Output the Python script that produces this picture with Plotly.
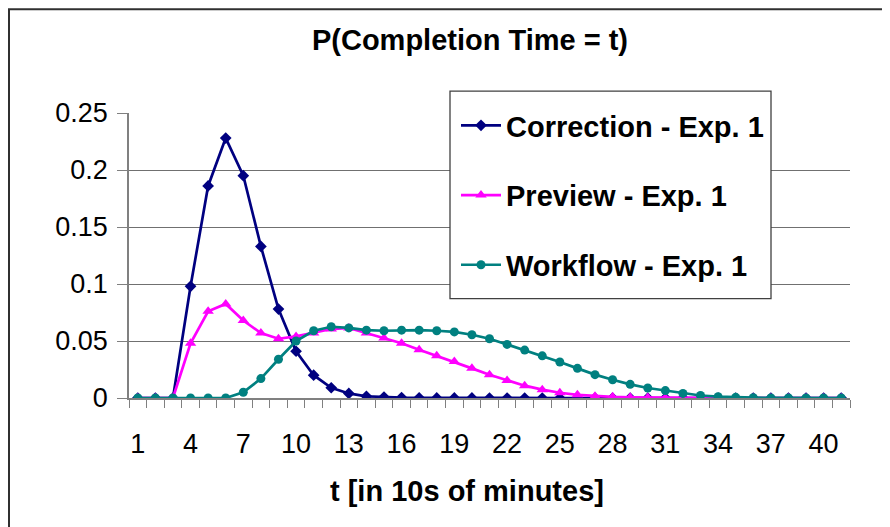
import plotly.graph_objects as go

t_values = list(range(1, 42))
tick_labels = [str(v) for v in range(1, 42, 3)]

correction = [0, 0, 0, 0.098, 0.186, 0.228, 0.195, 0.133, 0.078, 0.041,
              0.02, 0.009, 0.004, 0.0015, 0.0008, 0.0004, 0.0002, 0.0001, 0.0001, 0.0001,
              0, 0, 0, 0, 0, 0, 0, 0, 0, 0,
              0, 0, 0, 0, 0, 0, 0, 0, 0, 0, 0]
preview = [0, 0, 0, 0.048, 0.076, 0.0825, 0.068, 0.057, 0.052, 0.054,
           0.057, 0.0605, 0.0614, 0.057, 0.0526, 0.048, 0.0424, 0.037, 0.032, 0.026,
           0.0204, 0.0154, 0.0108, 0.0073, 0.0046, 0.0028, 0.0016, 0.001, 0.0006, 0.0004,
           0.0002, 0.0001, 0.0001, 0.0001, 0, 0, 0, 0, 0, 0, 0]
workflow = [0, 0, 0, 0, 0, 0, 0.005, 0.017, 0.034, 0.05,
            0.059, 0.0625, 0.0615, 0.0595, 0.059, 0.0595, 0.0595, 0.059, 0.058, 0.0555,
            0.052, 0.047, 0.042, 0.037, 0.0316, 0.026, 0.0205, 0.016, 0.012, 0.0088,
            0.0065, 0.004, 0.0022, 0.0012, 0.0006, 0.0003, 0.0001, 0.0001, 0, 0, 0]

series_names = ["Correction - Exp. 1", "Preview - Exp. 1", "Workflow - Exp. 1"]
colors = ["#000080", "#FF00FF", "#008080"]
symbols = ["diamond", "triangle-up", "circle"]
sizes = [9, 10, 9]

# page offset of the plot div (default body margin)
OFF = 8
W, H = 890 - OFF, 527 - OFF
# plot area in page pixels
PL, PR, PT, PB = 129, 850, 113, 398.5
L, R, T, B = PL - OFF, PR - OFF, PT - OFF, PB - OFF

def px(x):  # page pixel -> paper
    return (x - OFF - L) / (R - L)

def py(y):
    return (B - (y - OFF)) / (B - T)

FONT = "Liberation Sans, Arial, sans-serif"

fig = go.Figure()
for i, (name, ys) in enumerate(zip(series_names, [correction, preview, workflow])):
    fig.add_trace(go.Scatter(
        x=t_values, y=ys, name=f"<b>{name}</b>", mode="lines+markers",
        line=dict(color=colors[i], width=2.7),
        marker=dict(symbol=symbols[i], size=sizes[i], color=colors[i]),
        legendgroup=f"g{i}",
    ))

fig.update_layout(
    width=W, height=H,
    margin=dict(l=L, r=W - R, t=T, b=H - B, autoexpand=False),
    paper_bgcolor="white", plot_bgcolor="white",
    font=dict(family=FONT, color="black"),
    title=dict(text="<b>P(Completion Time = t)</b>", x=(470 - OFF) / W, xanchor="center",
               y=1 - (40 - OFF) / H, yanchor="middle", xref="container", yref="container",
               font=dict(size=29, family=FONT, color="black")),
    showlegend=True,
    legend=dict(x=px(456), y=py(100), xanchor="left", yanchor="top",
                bgcolor="rgba(0,0,0,0)", borderwidth=0,
                font=dict(size=29, family=FONT, color="black"),
                tracegroupgap=29, itemwidth=40),
    xaxis=dict(range=[0.5, 41.5], tickmode="array", tickvals=[int(s) for s in tick_labels],
               ticktext=tick_labels, ticks="", showgrid=False, zeroline=False,
               showline=True, linecolor="#808080", linewidth=1.5,
               tickfont=dict(size=27), ticklabelstandoff=21, automargin=False,
               minor=dict(tickmode="linear", tick0=0.5, dtick=1, ticks="outside",
                          ticklen=8, tickcolor="#808080", tickwidth=1.3, showgrid=False)),
    yaxis=dict(range=[0, 0.25], tickmode="linear", tick0=0, dtick=0.05,
               showgrid=True, gridcolor="#707070", gridwidth=1.3, zeroline=False,
               showline=True, linecolor="#808080", linewidth=1.5,
               ticks="outside", ticklen=10, tickcolor="#808080", tickwidth=1.3,
               tickfont=dict(size=27), ticklabelstandoff=4, automargin=False),
    shapes=[
        dict(type="rect", xref="paper", yref="paper",
             x0=px(OFF + 1), x1=px(886), y0=py(540), y1=py(OFF + 1),
             line=dict(color="#303030", width=2), layer="below"),
        dict(type="rect", xref="paper", yref="paper",
             x0=px(450), x1=px(771), y0=py(299), y1=py(91),
             line=dict(color="#404040", width=1.3), fillcolor="white", layer="above"),
    ],
    annotations=[
        dict(text="<b>t [in 10s of minutes]</b>", xref="paper", yref="paper",
             x=px(466.5), y=py(492), xanchor="center", yanchor="middle",
             showarrow=False, font=dict(size=29, color="black")),
    ],
)

fig.write_html("out.html")
